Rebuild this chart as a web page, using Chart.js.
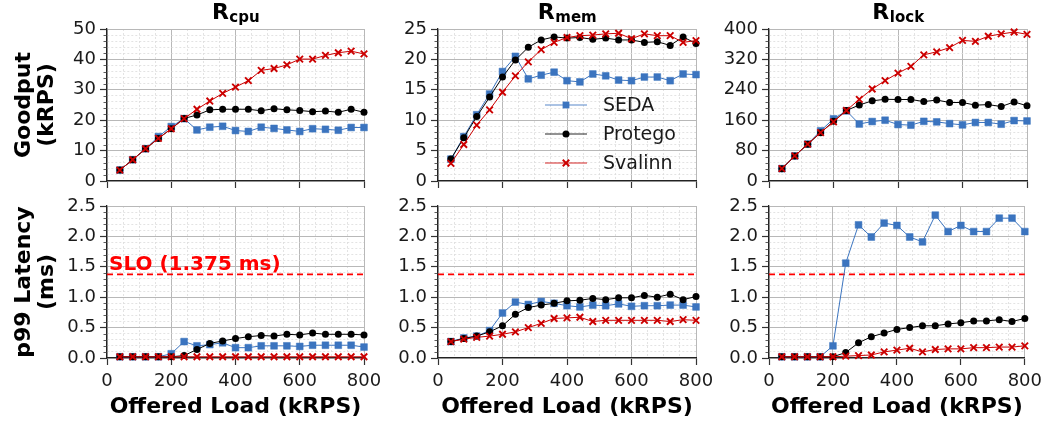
<!DOCTYPE html>
<html><head><meta charset="utf-8">
<script src="https://cdn.jsdelivr.net/npm/chart.js@4.4.1/dist/chart.umd.min.js"></script>
<style>
html,body{margin:0;padding:0;background:#fff;}
#wrap{position:relative;width:1048px;height:423px;overflow:hidden;background:#fff;}
canvas{position:absolute;left:0;top:0;}
</style></head><body><div id="wrap"></div>
<script>
// ---------------- data ----------------
const loads = [40,80,120,160,200,240,280,320,360,400,440,480,520,560,600,640,680,720,760,800];
const seriesNames = ['SEDA','Protego','Svalinn'];
const panelTitles = [['R','cpu'],['R','mem'],['R','lock']];

const cpuGoodSEDA    = [3.6,7.0,10.6,14.6,17.9,20.5,16.8,17.7,18.0,16.6,16.3,17.7,17.3,16.8,16.3,17.2,17.0,16.7,17.6,17.6];
const cpuGoodProtego = [3.6,7.0,10.6,14.0,17.2,20.6,21.7,23.4,23.6,23.6,23.6,23.1,23.8,23.4,23.2,22.8,23.0,22.6,23.6,22.6];
const cpuGoodSvalinn = [3.6,7.0,10.6,14.0,17.2,20.5,23.6,26.3,28.8,30.9,33.0,36.4,37.0,38.2,40.1,40.1,41.3,42.2,42.7,41.8];

const memGoodSEDA    = [3.6,7.3,10.9,14.3,18.0,20.5,16.8,17.4,17.9,16.5,16.3,17.6,17.3,16.6,16.5,17.1,17.1,16.5,17.6,17.5];
const memGoodProtego = [3.6,7.1,10.6,13.8,17.1,19.9,22.0,23.2,23.7,23.5,23.6,23.3,23.5,23.2,23.2,22.8,22.9,22.3,23.7,22.6];
const memGoodSvalinn = [2.9,6.0,9.2,11.7,14.6,17.3,19.6,21.6,22.8,23.6,23.9,24.0,24.2,24.3,23.4,24.2,23.9,23.9,22.8,23.1];

const lockGoodSEDA    = [32.5,66,97,132,163.5,184.6,150,156.5,160,148.6,147,157,155.6,151,147.7,154,154,149.5,159,158];
const lockGoodProtego = [32.5,66,97,127,157,185.5,200,211,215,214.5,214.5,209,213,206.6,206.6,199.6,201,196,208,198];
const lockGoodSvalinn = [32.5,66,97,127.5,155.6,185.5,215,242,264,284,301.5,332,340,351,370,367.5,381,387,392,386];

const cpuLatSEDA    = [0.02,0.02,0.02,0.02,0.07,0.27,0.20,0.22,0.25,0.17,0.17,0.20,0.20,0.20,0.19,0.21,0.21,0.21,0.21,0.18];
const cpuLatProtego = [0.02,0.02,0.02,0.02,0.02,0.04,0.14,0.24,0.28,0.32,0.35,0.37,0.36,0.39,0.38,0.41,0.39,0.39,0.39,0.38];
const cpuLatSvalinn = [0.02,0.02,0.02,0.02,0.02,0.02,0.02,0.02,0.02,0.02,0.02,0.02,0.02,0.02,0.02,0.02,0.02,0.02,0.02,0.02];

const memLatSEDA    = [0.27,0.33,0.36,0.45,0.74,0.92,0.88,0.93,0.90,0.86,0.84,0.87,0.86,0.89,0.85,0.86,0.86,0.87,0.87,0.84];
const memLatProtego = [0.27,0.32,0.36,0.43,0.53,0.72,0.83,0.87,0.90,0.94,0.95,0.98,0.96,0.99,0.99,1.03,1.00,1.05,0.96,1.01];
const memLatSvalinn = [0.27,0.31,0.34,0.36,0.39,0.43,0.50,0.57,0.65,0.66,0.67,0.60,0.62,0.62,0.62,0.62,0.62,0.60,0.63,0.62];

const lockLatSEDA    = [0.02,0.02,0.02,0.02,0.20,1.56,2.19,1.99,2.22,2.18,1.99,1.91,2.35,2.08,2.18,2.08,2.08,2.30,2.30,2.08];
const lockLatProtego = [0.02,0.02,0.02,0.02,0.02,0.09,0.25,0.35,0.41,0.47,0.50,0.53,0.53,0.56,0.58,0.61,0.61,0.63,0.60,0.65];
const lockLatSvalinn = [0.02,0.02,0.02,0.02,0.02,0.03,0.04,0.05,0.10,0.13,0.16,0.10,0.14,0.15,0.15,0.17,0.17,0.18,0.18,0.20];

const sloValue = 1.375;
const sloLabel = 'SLO (1.375 ms)';
const xTickValues = [0,200,400,600,800];
const goodYTicks = [[0,10,20,30,40,50],[0,5,10,15,20,25],[0,80,160,240,320,400]];
const latYTicks = [0,0.5,1.0,1.5,2.0,2.5];
const yTitles = [['Goodput','(kRPS)'],['p99 Latency','(ms)']];
const xTitle = 'Offered Load (kRPS)';

// ---------------- layout ----------------
const W = 1048, H = 423;
const colL = [107, 438, 769], colR = [364, 696, 1027];
const rowT = [29, 206], rowB = [181, 358];
const Y_W = 60, X_H = 40;
const FONT = '"DejaVu Sans", sans-serif';
const BLUE = '#3b74bf', BLACK = '#000000', RED = '#cc0000';
const wrap = document.getElementById('wrap');

function near(v, step){ const q = v/step; return Math.abs(q - Math.round(q)) < 1e-6; }
function xy(ys){ return loads.map((x,i)=>({x:x, y:ys[i]})); }

function seriesDatasets(seda, protego, svalinn){
  return [
    {label:seriesNames[0], data:xy(seda), borderColor:BLUE, backgroundColor:BLUE, borderWidth:1,
     pointStyle:'rect', pointRadius:4.8, pointBackgroundColor:BLUE, pointBorderColor:BLUE, pointBorderWidth:0.5, order:2},
    {label:seriesNames[1], data:xy(protego), borderColor:BLACK, backgroundColor:BLACK, borderWidth:1,
     pointStyle:'circle', pointRadius:3.5, pointBackgroundColor:BLACK, pointBorderColor:BLACK, pointBorderWidth:0, order:1},
    {label:seriesNames[2], data:xy(svalinn), borderColor:RED, backgroundColor:RED, borderWidth:1,
     pointStyle:'crossRot', pointRadius:4.6, pointBackgroundColor:RED, pointBorderColor:RED, pointBorderWidth:1.9, order:0}
  ];
}

function makePanel(cfg){
  const {col,row,datasets,yMax,yMajor,yMinor,yFmt,yLabels} = cfg;
  const canvas = document.createElement('canvas');
  canvas.width = W; canvas.height = H;
  canvas.style.width = W+'px'; canvas.style.height = H+'px';
  wrap.appendChild(canvas);

  const decor = {
    id:'decor'+col+row,
    afterDraw(chart){
      const ctx = chart.ctx, ca = chart.chartArea;
      ctx.save();
      // minor y ticks
      const ys = chart.scales.y;
      ctx.strokeStyle = '#333'; ctx.lineWidth = 0.8;
      ys.ticks.forEach(t=>{
        if (!near(t.value, yMajor)){
          const py = Math.round(ys.getPixelForValue(t.value)) + 0.5;
          ctx.beginPath(); ctx.moveTo(ca.left-3.5, py); ctx.lineTo(ca.left, py); ctx.stroke();
        }
      });
      const cx = (ca.left + ca.right)/2;
      ctx.fillStyle = '#000';
      // title
      if (row === 0){
        const [main, sub] = panelTitles[col];
        ctx.font = 'bold 22px ' + FONT;
        const wm = ctx.measureText(main).width;
        ctx.font = 'bold 15px ' + FONT;
        const ws = ctx.measureText(sub).width;
        const x0 = cx - (wm + ws)/2;
        ctx.textAlign = 'left'; ctx.textBaseline = 'alphabetic';
        ctx.font = 'bold 22px ' + FONT;
        ctx.fillText(main, x0, 19);
        ctx.font = 'bold 15px ' + FONT;
        ctx.fillText(sub, x0 + wm + 0.5, 21.5);
      }
      // y title
      if (col === 0){
        const cy = (ca.top + ca.bottom)/2;
        const lines = yTitles[row];
        ctx.font = 'bold 22px ' + FONT;
        ctx.textAlign = 'center'; ctx.textBaseline = 'middle';
        [24, 47].forEach((lx, i)=>{
          ctx.save(); ctx.translate(lx, cy); ctx.rotate(-Math.PI/2);
          ctx.fillText(lines[i], 0, 0); ctx.restore();
        });
      }
      // x title
      if (row === 1){
        ctx.font = 'bold 22px ' + FONT;
        ctx.textAlign = 'center'; ctx.textBaseline = 'middle';
        ctx.fillText(xTitle, cx, 407);
      }
      // SLO label
      if (row === 1 && col === 0){
        ctx.font = 'bold 20px ' + FONT;
        ctx.fillStyle = '#ff0000';
        ctx.textAlign = 'left'; ctx.textBaseline = 'alphabetic';
        ctx.fillText(sloLabel, ca.left + 2, ys.getPixelForValue(sloValue) - 4);
      }
      // legend
      if (row === 0 && col === 1){
        const rowsY = [105, 134, 163];
        const ds = chart.data.datasets;
        ds.forEach((d, i)=>{
          const yy = rowsY[i];
          ctx.strokeStyle = d.borderColor; ctx.lineWidth = 1.2; ctx.globalAlpha = 0.85;
          ctx.beginPath(); ctx.moveTo(545, yy); ctx.lineTo(587, yy); ctx.stroke();
          ctx.globalAlpha = 1;
          ctx.fillStyle = d.pointBackgroundColor; ctx.strokeStyle = d.pointBorderColor; ctx.lineWidth = d.pointBorderWidth;
          ctx.beginPath();
          if (d.pointStyle === 'rect'){ const s = d.pointRadius*Math.SQRT1_2; ctx.rect(566-s, yy-s, 2*s, 2*s); ctx.fill(); }
          else if (d.pointStyle === 'circle'){ ctx.arc(566, yy, d.pointRadius, 0, Math.PI*2); ctx.fill(); }
          else { const s = d.pointRadius*Math.SQRT1_2; ctx.moveTo(566-s,yy-s); ctx.lineTo(566+s,yy+s); ctx.moveTo(566-s,yy+s); ctx.lineTo(566+s,yy-s); ctx.stroke(); }
          ctx.fillStyle = '#1a1a1a';
          ctx.font = '19px ' + FONT; ctx.textAlign = 'left'; ctx.textBaseline = 'middle';
          ctx.fillText(d.label, 603, yy + 1);
        });
      }
      ctx.restore();
    }
  };

  const gridColor = (major) => (ctx)=> (ctx.tick && !near(ctx.tick.value, major)) ? '#dcdcdc' : '#b8b8b8';
  const gridWidth = (major) => (ctx)=> (ctx.tick && !near(ctx.tick.value, major)) ? 0.8 : 1;
  const tickCol = (major) => (ctx)=> (ctx.tick && !near(ctx.tick.value, major)) ? 'rgba(0,0,0,0)' : '#333';
  const dashF = (major) => (ctx)=> (ctx.tick && !near(ctx.tick.value, major)) ? [2,2] : [];

  const allDatasets = datasets.slice();
  if (row === 1){
    allDatasets.push({label:'SLO', data:[{x:0,y:sloValue},{x:800,y:sloValue}], borderColor:'#ff0000',
      borderWidth:1.8, borderDash:[6,4], pointRadius:0, order:5});
  }
  allDatasets.forEach(d=>{ d.clip = 12; d.tension = 0; d.fill = false; });

  new Chart(canvas, {
    type:'line',
    data:{datasets:allDatasets},
    plugins:[decor],
    options:{
      responsive:false, animation:false, events:[],
      layout:{padding:{left:colL[col]-Y_W, right:W-colR[col], top:rowT[row], bottom:H-rowB[row]-X_H}},
      plugins:{legend:{display:false}, tooltip:{enabled:false}, title:{display:false}},
      scales:{
        x:{type:'linear', min:0, max:800, offset:false,
          afterFit:(s)=>{ s.height = X_H; },
          ticks:{stepSize:50, maxTicksLimit:1000, autoSkip:false, maxRotation:0, minRotation:0,
            display: row === 1, padding:6, color:'#1a1a1a', font:{family:FONT, size:18},
            callback:(v)=> xTickValues.some(t=>Math.abs(t-v)<1e-6) ? String(v) : ''},
          grid:{color:gridColor(200), lineWidth:gridWidth(200), tickColor:tickCol(200), tickLength:7, tickWidth:1.2, drawOnChartArea:true},
          border:{display:true, color:'#222', width:1.3, dash:dashF(200)}
        },
        y:{type:'linear', min:0, max:yMax,
          afterFit:(s)=>{ s.width = Y_W; },
          ticks:{stepSize:yMinor, maxTicksLimit:1000, autoSkip:false, padding:4, color:'#1a1a1a', font:{family:FONT, size:18},
            callback:(v)=> yLabels.some(t=>Math.abs(t-v)<1e-6) ? yFmt(v) : ''},
          grid:{color:gridColor(yMajor), lineWidth:gridWidth(yMajor), tickColor:tickCol(yMajor), tickLength:7, tickWidth:1.2},
          border:{display:true, color:'#222', width:1.3, dash:dashF(yMajor)}
        }
      }
    }
  });
}

const intFmt = (v)=> String(Math.round(v));
const latFmt = (v)=> v.toFixed(1);

makePanel({col:0,row:0,datasets:seriesDatasets(cpuGoodSEDA,cpuGoodProtego,cpuGoodSvalinn),yMax:50,yMajor:10,yMinor:2,yFmt:intFmt,yLabels:goodYTicks[0]});
makePanel({col:1,row:0,datasets:seriesDatasets(memGoodSEDA,memGoodProtego,memGoodSvalinn),yMax:25,yMajor:5,yMinor:1,yFmt:intFmt,yLabels:goodYTicks[1]});
makePanel({col:2,row:0,datasets:seriesDatasets(lockGoodSEDA,lockGoodProtego,lockGoodSvalinn),yMax:400,yMajor:80,yMinor:16,yFmt:intFmt,yLabels:goodYTicks[2]});
makePanel({col:0,row:1,datasets:seriesDatasets(cpuLatSEDA,cpuLatProtego,cpuLatSvalinn),yMax:2.5,yMajor:0.5,yMinor:0.1,yFmt:latFmt,yLabels:latYTicks});
makePanel({col:1,row:1,datasets:seriesDatasets(memLatSEDA,memLatProtego,memLatSvalinn),yMax:2.5,yMajor:0.5,yMinor:0.1,yFmt:latFmt,yLabels:latYTicks});
makePanel({col:2,row:1,datasets:seriesDatasets(lockLatSEDA,lockLatProtego,lockLatSvalinn),yMax:2.5,yMajor:0.5,yMinor:0.1,yFmt:latFmt,yLabels:latYTicks});
</script></body></html>
